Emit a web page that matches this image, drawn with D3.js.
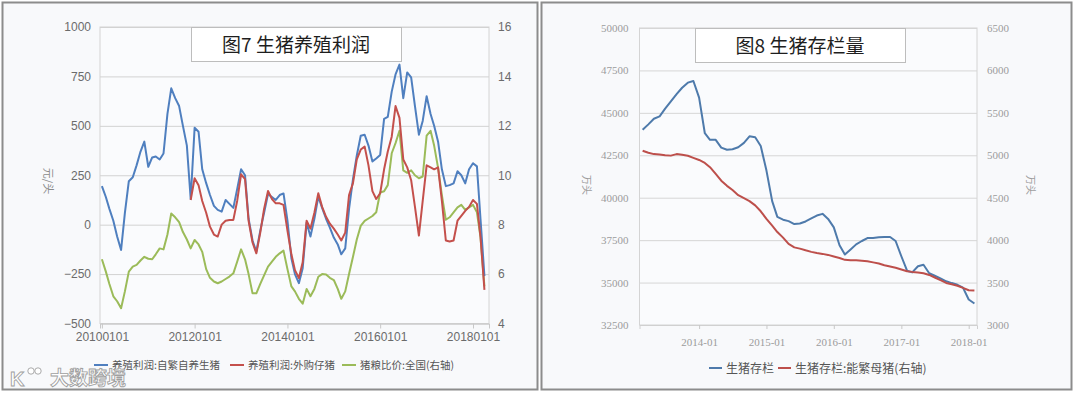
<!DOCTYPE html>
<html>
<head>
<meta charset="utf-8">
<style>
  body { margin: 0; background: #fff; }
  svg { display: block; }
</style>
</head>
<body>
<script src="https://d3js.org/d3.v7.min.js"></script>
<script>
// ---------- data: figure 7 (monthly, 2010-01 .. 2018-04) ----------
var profitMonths = d3.timeMonth.range(new Date(2010, 0, 1), new Date(2018, 4, 1));

var selfBred = [
  195, 140, 80, 20, -60, -128, 60, 220, 240, 300, 370, 420,
  293, 340, 345, 330, 360, 560, 690, 640, 600, 500, 400, 130,
  490, 470, 280, 210, 150, 95, 75, 66, 125, 105, 85, 180,
  280, 250, 30, -80, -137, -30, 60, 155, 140, 125, 150, 158,
  20, -170, -250, -296, -220, 10, -60, 30, 142, 85, 30, -15,
  -65, -100, -150, -120, 80, 230, 350, 450, 455, 400, 320, 335,
  353, 535, 545, 673, 760, 810, 640, 770, 745, 600, 455, 525,
  650, 560, 500, 420, 280, 195, 200, 209, 270, 250, 209, 280,
  311, 295, 30, -260
];

var boughtPiglet = [
  null, null, null, null, null, null, null, null, null, null, null, null,
  null, null, null, null, null, null, null, null, null, null, null, 125,
  235, 200, 120, 60, -10, -50, -60, 0, 20, 24, 24, 120,
  255, 230, 20, -90, -145, -40, 80, 170, 130, 108, 108, 100,
  -30, -150, -230, -270, -190, 20, -20, 60, 159, 90, 40, 5,
  -20, -50, -80, -40, 150, 210, 330, 380, 395, 300, 170, 130,
  159, 280, 370, 445, 600, 540, 330, 290, 225, 90, -55, 120,
  300, 290, 280, 290, 120, -80, -85, -80, 20, 45, 70, 90,
  125, 105, -60, -330
];

var hogGrainRatio = [
  6.6, 6.1, 5.6, 5.1, 4.9, 4.62, 5.3, 6.1, 6.3, 6.37, 6.55, 6.7,
  6.62, 6.6, 6.8, 7.04, 7.0, 7.6, 8.45, 8.3, 8.1, 7.7, 7.4, 7.04,
  7.38, 7.2, 6.9, 6.2, 5.85, 5.7, 5.63, 5.7, 5.8, 5.9, 6.03, 6.5,
  7.0, 6.6, 6.0, 5.22, 5.22, 5.6, 5.95, 6.3, 6.5, 6.7, 6.84, 6.95,
  6.2, 5.5, 5.3, 5.0, 4.8, 5.4, 5.1, 5.4, 5.89, 6.0, 5.98, 5.85,
  5.76, 5.4, 5.0, 5.3, 6.0, 6.7, 7.4, 7.95, 8.15, 8.25, 8.35, 8.5,
  9.3, 9.35, 9.6, 10.89, 11.3, 11.8, 10.2, 10.1, 10.2, 10.0, 9.88, 9.95,
  11.6, 11.8, 11.2, 10.3, 9.2, 8.2, 8.3, 8.5, 8.7, 8.8, 8.6, 8.7,
  8.8, 8.5, 7.5, 5.5
];

var profitTicksLeft = [-500, -250, 0, 250, 500, 750, 1000];
var profitTicksRight = [4, 6, 8, 10, 12, 14, 16];
var profitDateTicks = ["2010-01-01", "2012-01-01", "2014-01-01", "2016-01-01", "2018-01-01"];
var profitLegend = ["养殖利润:自繁自养生猪", "养殖利润:外购仔猪", "猪粮比价:全国(右轴)"];

// ---------- data: figure 8 (monthly, 2013-03 .. 2018-02) ----------
var stockMonths = d3.timeMonth.range(new Date(2013, 2, 1), new Date(2018, 2, 1));

var hogStock = [
  44000, 44320, 44650, 44790, 45250, 45680, 46100, 46480, 46780, 46880,
  45900, 43800, 43412, 43412, 42950, 42824, 42860, 42970, 43230, 43620, 43560, 43050,
  41600, 39800, 38870, 38706, 38620, 38450, 38480, 38600, 38780, 38950, 39050, 38750,
  38250, 37200, 36650, 36950, 37250, 37450, 37620, 37630, 37670, 37690, 37688, 37450,
  36550, 35700, 35600, 35959, 36050, 35550, 35400, 35250, 35076, 34970, 34870, 34700,
  34000, 33765
];

var sowStock = [
  5053, 5030, 5014, 5010, 5000, 4996, 5014, 5005, 4994, 4970,
  4945, 4910, 4860, 4780, 4700, 4640, 4590, 4530, 4495, 4460, 4410, 4340,
  4250, 4170, 4095, 4030, 3955, 3915, 3900, 3880, 3862, 3848, 3838, 3826,
  3808, 3790, 3768, 3762, 3762, 3756, 3750, 3738, 3725, 3705, 3690, 3675,
  3655, 3634, 3626, 3620, 3610, 3590, 3560, 3528, 3496, 3480, 3462, 3437,
  3409, 3406
];

var stockTicksLeft = [32500, 35000, 37500, 40000, 42500, 45000, 47500, 50000];
var stockTicksRight = [3000, 3500, 4000, 4500, 5000, 5500, 6000, 6500];
var stockDateTicks = ["2014-01-01", "2015-01-01", "2016-01-01", "2017-01-01", "2018-01-01"];
var stockLegend = ["生猪存栏", "生猪存栏:能繁母猪(右轴)"];

var parseDay = d3.timeParse("%Y-%m-%d");
var cjk = "'Noto Sans CJK SC', 'Noto Sans', sans-serif";

var svg = d3.select("body").append("svg")
  .attr("width", 1080)
  .attr("height", 394);

// panel frames
svg.append("rect").attr("x", 2.5).attr("y", 2.5).attr("width", 535).attr("height", 387)
  .attr("fill", "#f8f9fb").attr("stroke", "#8c8c8c").attr("stroke-width", 2);
svg.append("rect").attr("x", 541.5).attr("y", 2.5).attr("width", 530).attr("height", 387)
  .attr("fill", "#f8f9fb").attr("stroke", "#8c8c8c").attr("stroke-width", 2);

// ================= Figure 7 =================
var p1 = {left: 100, right: 489, top: 27, bottom: 323.5};

var x1 = d3.scaleTime()
  .domain([new Date(2009, 11, 17), new Date(2018, 4, 7)])
  .range([p1.left, p1.right]);
var y1 = d3.scaleLinear().domain([-500, 1000]).range([p1.bottom, p1.top]);
var y1r = d3.scaleLinear().domain([4, 16]).range([p1.bottom, p1.top]);

var g1 = svg.append("g");

g1.append("rect")
  .attr("x", p1.left).attr("y", p1.top)
  .attr("width", p1.right - p1.left).attr("height", p1.bottom - p1.top)
  .attr("fill", "#fafbfd").attr("stroke", "#d4d4d4");

// gridlines
g1.append("g")
  .attr("transform", "translate(" + p1.left + ",0)")
  .call(d3.axisLeft(y1).tickValues(profitTicksLeft).tickSize(-(p1.right - p1.left)).tickFormat(""))
  .call(function(g) { g.select(".domain").remove(); })
  .selectAll("line").attr("stroke", "#d2d2d2");

// left axis labels
var ax1l = g1.append("g")
  .attr("transform", "translate(" + (p1.left - 6) + ",0)")
  .call(d3.axisLeft(y1).tickValues(profitTicksLeft).tickSize(0).tickFormat(d3.format("d")));
ax1l.select(".domain").remove();
ax1l.selectAll("text").attr("font-family", "'Liberation Sans', sans-serif")
  .attr("font-size", 12).attr("fill", "#6b6b6b");

// right axis labels
var ax1r = g1.append("g")
  .attr("transform", "translate(" + (p1.right + 6) + ",0)")
  .call(d3.axisRight(y1r).tickValues(profitTicksRight).tickSize(0));
ax1r.select(".domain").remove();
ax1r.selectAll("text").attr("font-family", "'Liberation Sans', sans-serif")
  .attr("font-size", 12).attr("fill", "#6b6b6b");

// bottom axis
var ax1b = g1.append("g")
  .attr("transform", "translate(0," + p1.bottom + ")")
  .call(d3.axisBottom(x1).tickValues(profitDateTicks.map(parseDay))
    .tickSize(5).tickPadding(4).tickFormat(d3.timeFormat("%Y%m%d")));
ax1b.select(".domain").attr("stroke", "#c8c8c8");
ax1b.selectAll("line").attr("stroke", "#c8c8c8");
ax1b.selectAll("text").attr("font-family", "'Liberation Sans', sans-serif")
  .attr("font-size", 12).attr("fill", "#6b6b6b");

// lines
var profitColors = ["#4f7fbf", "#c4504c", "#9bbb59"];

function drawSeries(g, dates, vals, xs, ys, color) {
  var line = d3.line()
    .defined(function(d) { return d[1] != null; })
    .x(function(d) { return xs(d[0]); })
    .y(function(d) { return ys(d[1]); });
  g.append("path")
    .datum(dates.map(function(d, i) { return [d, vals[i]]; }))
    .attr("fill", "none")
    .attr("stroke", color)
    .attr("stroke-width", 2)
    .attr("stroke-linejoin", "round")
    .attr("d", line);
}

drawSeries(g1, profitMonths, hogGrainRatio, x1, y1r, profitColors[2]);
drawSeries(g1, profitMonths, selfBred, x1, y1, profitColors[0]);
drawSeries(g1, profitMonths, boughtPiglet, x1, y1, profitColors[1]);

// axis title
g1.append("text")
  .attr("transform", "translate(44,181) rotate(90)")
  .attr("text-anchor", "middle")
  .attr("font-family", cjk).attr("font-size", 11).attr("fill", "#8a8a8a")
  .text("元/头");

// title box
g1.append("rect").attr("x", 191.5).attr("y", 27.5).attr("width", 210).attr("height", 34)
  .attr("fill", "#fff").attr("stroke", "#bdbdbd");
g1.append("text").attr("x", 296).attr("y", 52)
  .attr("text-anchor", "middle")
  .attr("font-family", cjk).attr("font-size", 19).attr("fill", "#1e1e1e")
  .text("图7 生猪养殖利润");

// legend
var leg1X = [94, 230, 342];
profitLegend.forEach(function(t, i) {
  g1.append("line").attr("x1", leg1X[i]).attr("x2", leg1X[i] + 14)
    .attr("y1", 365).attr("y2", 365)
    .attr("stroke", profitColors[i]).attr("stroke-width", 2);
  g1.append("text").attr("x", leg1X[i] + 18).attr("y", 369)
    .attr("font-family", cjk).attr("font-size", 10.5).attr("fill", "#555")
    .text(t);
});

// ================= Figure 8 =================
var p2 = {left: 639.5, right: 977, top: 28, bottom: 325};

var x2 = d3.scaleTime()
  .domain([new Date(2013, 1, 12), new Date(2018, 1, 15)])
  .range([p2.left, p2.right]);
var y2 = d3.scaleLinear().domain([32500, 50000]).range([p2.bottom, p2.top]);
var y2r = d3.scaleLinear().domain([3000, 6500]).range([p2.bottom, p2.top]);

var g2 = svg.append("g");

g2.append("rect")
  .attr("x", p2.left).attr("y", p2.top)
  .attr("width", p2.right - p2.left).attr("height", p2.bottom - p2.top)
  .attr("fill", "#fafbfd").attr("stroke", "#d4d4d4");

g2.append("g")
  .attr("transform", "translate(" + p2.left + ",0)")
  .call(d3.axisLeft(y2).tickValues(stockTicksLeft).tickSize(-(p2.right - p2.left)).tickFormat(""))
  .call(function(g) { g.select(".domain").remove(); })
  .selectAll("line").attr("stroke", "#d6d6d6");

var ax2l = g2.append("g")
  .attr("transform", "translate(" + (p2.left - 8) + ",0)")
  .call(d3.axisLeft(y2).tickValues(stockTicksLeft).tickSize(0).tickFormat(d3.format("d")));
ax2l.select(".domain").remove();
ax2l.selectAll("text").attr("font-family", "'Liberation Serif', serif")
  .attr("font-size", 11).attr("fill", "#9c9c9c");

var ax2r = g2.append("g")
  .attr("transform", "translate(" + (p2.right + 7) + ",0)")
  .call(d3.axisRight(y2r).tickValues(stockTicksRight).tickSize(0).tickFormat(d3.format("d")));
ax2r.select(".domain").remove();
ax2r.selectAll("text").attr("font-family", "'Liberation Serif', serif")
  .attr("font-size", 11).attr("fill", "#9c9c9c");

var ax2b = g2.append("g")
  .attr("transform", "translate(0," + p2.bottom + ")")
  .call(d3.axisBottom(x2).tickValues(stockDateTicks.map(parseDay))
    .tickSize(4).tickPadding(9).tickFormat(d3.timeFormat("%Y-%m")));
ax2b.select(".domain").attr("stroke", "#d0d0d0");
ax2b.selectAll("line").attr("stroke", "#c8c8c8");
ax2b.selectAll("text").attr("font-family", "'Liberation Serif', serif")
  .attr("font-size", 11).attr("fill", "#9c9c9c");

var stockColors = ["#4e7aab", "#bd4f4b"];
drawSeries(g2, stockMonths, hogStock, x2, y2, stockColors[0]);
drawSeries(g2, stockMonths, sowStock, x2, y2r, stockColors[1]);

g2.append("text")
  .attr("transform", "translate(583,185) rotate(90)")
  .attr("text-anchor", "middle")
  .attr("font-family", "'Noto Sans CJK SC', serif").attr("font-size", 10).attr("fill", "#9c9c9c")
  .text("万头");
g2.append("text")
  .attr("transform", "translate(1027,185) rotate(90)")
  .attr("text-anchor", "middle")
  .attr("font-family", "'Noto Sans CJK SC', serif").attr("font-size", 10).attr("fill", "#9c9c9c")
  .text("万头");

g2.append("rect").attr("x", 695.5).attr("y", 28.5).attr("width", 210).attr("height", 34)
  .attr("fill", "#fff").attr("stroke", "#bdbdbd");
g2.append("text").attr("x", 800).attr("y", 53)
  .attr("text-anchor", "middle")
  .attr("font-family", cjk).attr("font-size", 19).attr("fill", "#1e1e1e")
  .text("图8 生猪存栏量");

var leg2X = [709, 778];
stockLegend.forEach(function(t, i) {
  g2.append("line").attr("x1", leg2X[i]).attr("x2", leg2X[i] + 13)
    .attr("y1", 368).attr("y2", 368)
    .attr("stroke", stockColors[i]).attr("stroke-width", 2);
  g2.append("text").attr("x", leg2X[i] + 17).attr("y", 372.5)
    .attr("font-family", cjk).attr("font-size", 12).attr("fill", "#555")
    .text(t);
});

// watermark (logo drawn as shapes, name as outlined text)
var wm = svg.append("g").attr("fill", "#fff").attr("stroke", "#a0a0a0").attr("stroke-width", 0.9);
wm.append("text").attr("x", 10).attr("y", 386)
  .attr("font-family", "'Liberation Sans', sans-serif").attr("font-size", 20).attr("font-weight", "bold")
  .text("K");
wm.append("circle").attr("cx", 31).attr("cy", 371).attr("r", 3.2);
wm.append("circle").attr("cx", 38).attr("cy", 371).attr("r", 3.2);
wm.append("text").attr("x", 50).attr("y", 385)
  .attr("font-family", cjk).attr("font-size", 19).attr("font-weight", "bold")
  .text("大数跨境");
</script>
</body>
</html>
